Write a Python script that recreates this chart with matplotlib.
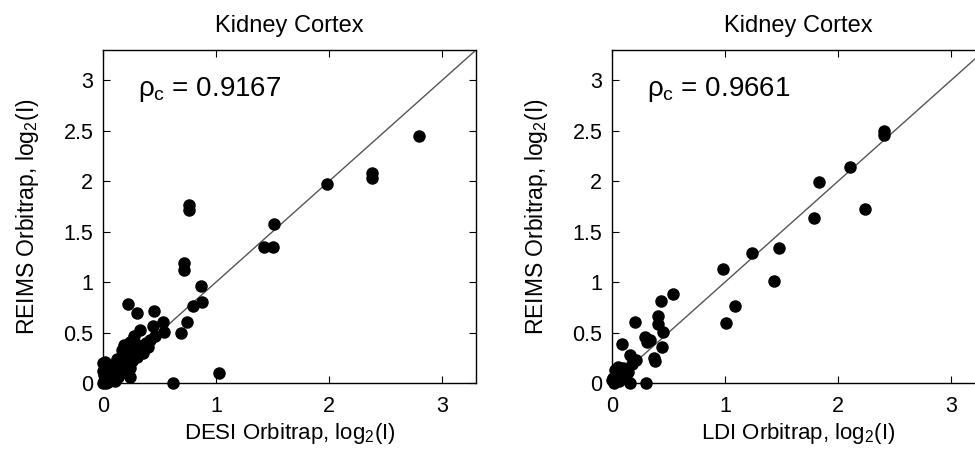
import matplotlib
matplotlib.use('Agg')
import matplotlib.pyplot as plt

FIG_W, FIG_H, DPI = 9.75, 4.61, 100
FONT = 'Liberation Sans'

plt.rcParams['font.family'] = FONT
plt.rcParams['mathtext.fontset'] = 'custom'
plt.rcParams['mathtext.rm'] = FONT
plt.rcParams['mathtext.it'] = FONT
plt.rcParams['mathtext.bf'] = FONT

TITLE = 'Kidney Cortex'
Y_LABEL = 'REIMS Orbitrap, log$_2$(I)'
X_TICKS = [0, 1, 2, 3]
Y_TICKS = [0, 0.5, 1, 1.5, 2, 2.5, 3]
Y_TICK_LABELS = ['0', '0.5', '1', '1.5', '2', '2.5', '3']

# left panel: DESI vs REIMS
desi_label = 'DESI Orbitrap, log$_2$(I)'
desi_rho = '$\\rho_c$ = 0.9167'
desi_x = [2.80, 2.38, 2.38, 1.98, 1.51, 1.50, 1.42, 0.76, 0.76, 0.72, 0.72,
          0.87, 0.88, 0.80, 0.74, 0.69, 1.03, 0.62, 0.22, 0.30, 0.45, 0.53,
          0.54, 0.44, 0.33, 0.27, 0.24, 0.19, 0.17, 0.42, 0.38, 0.35, 0.31,
          0.28, 0.25, 0.22, 0.19, 0.16, 0.13, 0.10, 0.07, 0.04, 0.02, 0.01,
          0.24, 0.13, 0.09, 0.00, 0.02, 0.00, 0.01, 0.05, 0.08, 0.03, 0.06,
          0.15, 0.20, 0.26, 0.30, 0.35, 0.40, 0.28, 0.22, 0.12, 0.18, 0.00,
          0.04, 0.11, 0.24, 0.46]
desi_y = [2.45, 2.08, 2.03, 1.97, 1.58, 1.35, 1.35, 1.76, 1.71, 1.19, 1.12,
          0.96, 0.80, 0.76, 0.60, 0.50, 0.10, 0.00, 0.78, 0.69, 0.71, 0.60,
          0.51, 0.56, 0.53, 0.47, 0.41, 0.38, 0.33, 0.43, 0.40, 0.37, 0.33,
          0.30, 0.27, 0.25, 0.21, 0.18, 0.16, 0.13, 0.10, 0.07, 0.04, 0.02,
          0.06, 0.06, 0.04, 0.20, 0.21, 0.12, 0.08, 0.15, 0.18, 0.00, 0.03,
          0.10, 0.14, 0.22, 0.26, 0.30, 0.36, 0.40, 0.32, 0.24, 0.12, 0.00,
          0.01, 0.02, 0.15, 0.47]

# right panel: LDI vs REIMS
ldi_label = 'LDI Orbitrap, log$_2$(I)'
ldi_rho = '$\\rho_c$ = 0.9661'
ldi_x = [2.41, 2.41, 2.11, 1.83, 2.24, 1.79, 1.48, 1.24, 0.98, 1.43, 1.09,
         1.01, 0.54, 0.43, 0.20, 0.41, 0.41, 0.45, 0.44, 0.37, 0.38, 0.29,
         0.34, 0.31, 0.09, 0.16, 0.21, 0.30, 0.16, 0.05, 0.10, 0.03, 0.00,
         0.01, 0.07, 0.14, 0.02, 0.06, 0.18, 0.12, 0.04]
ldi_y = [2.50, 2.46, 2.14, 1.99, 1.72, 1.64, 1.34, 1.29, 1.13, 1.01, 0.76,
         0.59, 0.88, 0.81, 0.60, 0.66, 0.58, 0.51, 0.36, 0.25, 0.22, 0.46,
         0.43, 0.41, 0.39, 0.28, 0.23, 0.00, 0.00, 0.16, 0.15, 0.13, 0.03,
         0.05, 0.10, 0.11, 0.00, 0.02, 0.19, 0.08, 0.06]

fig = plt.figure(figsize=(FIG_W, FIG_H), dpi=DPI)

AX_W = 373 / 975
AX_B = (461 - 383) / 461
AX_H = 333 / 461


def panel(left, xs, ys, xlabel, rho):
    ax = fig.add_axes([left, AX_B, AX_W, AX_H])
    ax.plot([0, 4], [0, 4], color='#555555', lw=1.0, zorder=1)
    ax.plot(xs, ys, 'o', color='black', ms=9, mew=0, zorder=2,
            clip_on=False)
    ax.set_xlim(0, 3.3)
    ax.set_ylim(0, 3.3)
    ax.set_xticks(X_TICKS)
    ax.set_yticks(Y_TICKS)
    ax.set_yticklabels(Y_TICK_LABELS)
    ax.tick_params(direction='in', top=True, right=True, length=5,
                   width=0.8, labelsize=15.5)
    ax.tick_params(axis='x', pad=9)
    ax.tick_params(axis='y', pad=7)
    for s in ax.spines.values():
        s.set_linewidth(1.0)
    ax.set_title(TITLE, fontsize=17, pad=13)
    ax.set_xlabel(xlabel, fontsize=16, labelpad=3)
    ax.set_ylabel(Y_LABEL, fontsize=16.5, labelpad=16)
    ax.text(0.095, 0.88, rho, transform=ax.transAxes, fontsize=20,
            va='center', ha='left')
    return ax


panel(103 / 975, desi_x, desi_y, desi_label, desi_rho)
panel(612 / 975, ldi_x, ldi_y, ldi_label, ldi_rho)

fig.savefig('out.png', dpi=DPI)
